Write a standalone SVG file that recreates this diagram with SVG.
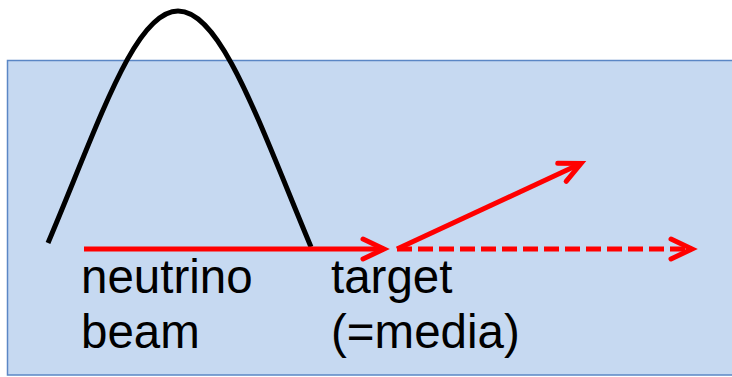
<svg xmlns="http://www.w3.org/2000/svg" width="732" height="377" viewBox="0 0 732 377">
  <style>
    .lbl { font-family: "Liberation Sans", Arial, sans-serif; font-size: 47.5px; fill: #000; }
    .beam { stroke: #FF0000; stroke-width: 5; fill: none; }
  </style>
  <defs>
    <marker id="vhead" markerUnits="userSpaceOnUse" markerWidth="40" markerHeight="40" viewBox="-30 -20 40 40" refX="0" refY="0" orient="auto" overflow="visible">
      <path d="M-21,-10 L0,0 L-21,10" fill="none" stroke="#FF0000" stroke-width="5" stroke-linecap="round" stroke-linejoin="miter"/>
    </marker>
  </defs>
  <g id="media">
    <rect x="7.5" y="60.5" width="740" height="314.5" fill="#C6D9F1" stroke="#5B87C5" stroke-width="1.5"/>
  </g>
  <g id="spectrum">
    <path d="M48,243 C100,120 135,11 178,11 C221,11 258,120 311,247" fill="none" stroke="#000" stroke-width="5"/>
  </g>
  <g id="connectors">
    <path class="beam" d="M84,249 L384,249" marker-end="url(#vhead)"/>
    <path class="beam" d="M397,249 L581,163.5" marker-end="url(#vhead)"/>
    <path class="beam" d="M397,249 L692,249" stroke-dasharray="15 6" marker-end="url(#vhead)"/>
  </g>
  <g id="label-beam">
    <text class="lbl" x="81" y="293">neutrino</text>
    <text class="lbl" x="81" y="348">beam</text>
  </g>
  <g id="label-target">
    <text class="lbl" x="331" y="293">target</text>
    <text class="lbl" x="331" y="348">(=media)</text>
  </g>
</svg>
